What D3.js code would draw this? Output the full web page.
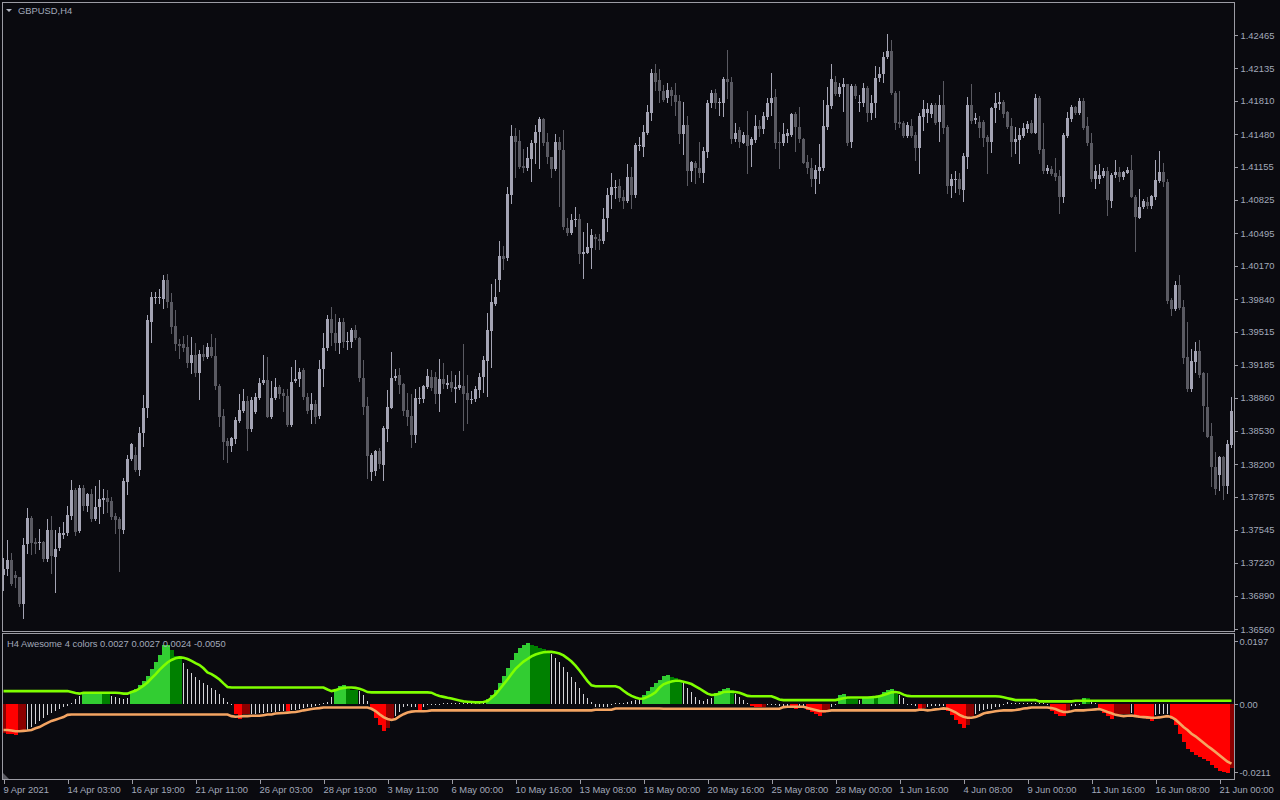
<!DOCTYPE html>
<html><head><meta charset="utf-8">
<script src="https://cdn.jsdelivr.net/npm/d3@7"></script>
<style>
html,body{margin:0;padding:0;background:#0a0a0f;}
svg{display:block}
text{font-family:"Liberation Sans",Arial,sans-serif;}
</style></head><body>
<svg id="c" width="1280" height="800"></svg>
<script>
// ---------- DATA ----------
const symbolTitle = "GBPUSD,H4";
const indicatorTitle = "H4 Awesome 4 colors 0.0027 0.0027 0.0024 -0.0050";
const timeLabels = ["9 Apr 2021","14 Apr 03:00","16 Apr 19:00","21 Apr 11:00","26 Apr 03:00","28 Apr 19:00","3 May 11:00","6 May 00:00","10 May 16:00","13 May 08:00","18 May 00:00","20 May 16:00","25 May 08:00","28 May 00:00","1 Jun 16:00","4 Jun 08:00","9 Jun 00:00","11 Jun 16:00","16 Jun 08:00","21 Jun 00:00"];
const timeLabelBars = [0,16,32,48,64,80,96,112,128,144,160,176,192,208,224,240,256,272,288,304];
const priceTicks = ["1.42465","1.42135","1.41810","1.41480","1.41155","1.40825","1.40495","1.40170","1.39840","1.39515","1.39185","1.38860","1.38530","1.38200","1.37875","1.37545","1.37220","1.36890","1.36560"];
const aoTicks = ["0.0197","0.00","-0.0211"];

const open = [
1.3710,1.3716,1.3725,1.3710,1.3708,1.3681,1.3740,1.3766,1.3742,1.3742,
1.3742,1.3725,1.3754,1.3728,1.3736,1.3749,1.3751,1.3768,1.3794,1.3753,
1.3796,1.3778,1.3790,1.3765,1.3777,1.3784,1.3786,1.3783,1.3768,1.3765,
1.3754,1.3802,1.3825,1.3829,1.3814,1.3851,1.3876,1.3961,1.3985,1.3985,
1.3984,1.4003,1.3981,1.3957,1.3939,1.3939,1.3936,1.3920,1.3928,1.3910,
1.3929,1.3926,1.3936,1.3927,1.3898,1.3868,1.3843,1.3838,1.3845,1.3863,
1.3873,1.3883,1.3855,1.3872,1.3886,1.3901,1.3904,1.3867,1.3886,1.3897,
1.3891,1.3888,1.3859,1.3903,1.3904,1.3913,1.3887,1.3874,1.3880,1.3867,
1.3914,1.3935,1.3964,1.3950,1.3940,1.3961,1.3942,1.3941,1.3953,1.3945,
1.3906,1.3878,1.3812,1.3813,1.3833,1.3819,1.3855,1.3876,1.3906,1.3909,
1.3900,1.3874,1.3868,1.3849,1.3885,1.3885,1.3897,1.3907,1.3907,1.3890,
1.3905,1.3899,1.3902,1.3895,1.3896,1.3898,1.3891,1.3884,1.3885,1.3894,
1.3906,1.3922,1.3952,1.3979,1.4003,1.4027,1.4024,1.4087,1.4146,1.4141,
1.4116,1.4114,1.4123,1.4139,1.4150,1.4163,1.4140,1.4125,1.4113,1.4140,
1.4132,1.4055,1.4050,1.4063,1.4064,1.4029,1.4030,1.4035,1.4046,1.4044,
1.4042,1.4064,1.4087,1.4095,1.4096,1.4085,1.4081,1.4105,1.4087,1.4136,
1.4135,1.4149,1.4169,1.4209,1.4202,1.4191,1.4184,1.4192,1.4187,1.4181,
1.4148,1.4157,1.4111,1.4119,1.4114,1.4109,1.4130,1.4179,1.4189,1.4180,
1.4179,1.4203,1.4200,1.4143,1.4152,1.4139,1.4147,1.4137,1.4142,1.4156,
1.4153,1.4165,1.4179,1.4185,1.4140,1.4139,1.4146,1.4147,1.4168,1.4155,
1.4143,1.4120,1.4114,1.4103,1.4111,1.4114,1.4155,1.4176,1.4200,1.4188,
1.4195,1.4198,1.4140,1.4196,1.4180,1.4179,1.4194,1.4169,1.4179,1.4204,
1.4208,1.4225,1.4231,1.4189,1.4160,1.4159,1.4146,1.4156,1.4147,1.4134,
1.4165,1.4169,1.4168,1.4177,1.4160,1.4177,1.4155,1.4096,1.4103,1.4103,
1.4092,1.4125,1.4177,1.4162,1.4160,1.4160,1.4145,1.4140,1.4174,1.4178,
1.4180,1.4170,1.4156,1.4140,1.4142,1.4146,1.4153,1.4159,1.4149,1.4184,
1.4133,1.4111,1.4113,1.4109,1.4106,1.4085,1.4146,1.4163,1.4175,1.4169,
1.4181,1.4156,1.4139,1.4103,1.4103,1.4106,1.4111,1.4081,1.4107,1.4110,
1.4105,1.4109,1.4112,1.4085,1.4065,1.4075,1.4080,1.4076,1.4085,1.4101,
1.4110,1.4100,1.3983,1.3974,1.3998,1.3976,1.3926,1.3894,1.3921,1.3932,
1.3910,1.3877,1.3848,1.3817,1.3809,1.3827,1.3798,1.3839];

const high = [
1.3727,1.3744,1.3732,1.3714,1.3708,1.3746,1.3776,1.3768,1.3746,1.3755,
1.3743,1.3765,1.3768,1.3754,1.3757,1.3762,1.3778,1.3804,1.3796,1.3799,
1.3799,1.3791,1.3795,1.3798,1.3804,1.3795,1.3794,1.3787,1.3771,1.3767,
1.3806,1.3829,1.3841,1.3837,1.3857,1.3889,1.3968,1.3991,1.3991,1.3994,
1.4008,1.4009,1.3990,1.3973,1.3944,1.3947,1.3948,1.3946,1.3940,1.3933,
1.3938,1.3940,1.3949,1.3945,1.3900,1.3875,1.3846,1.3847,1.3867,1.3890,
1.3895,1.3888,1.3887,1.3891,1.3906,1.3928,1.3926,1.3903,1.3906,1.3899,
1.3895,1.3895,1.3916,1.3923,1.3915,1.3915,1.3891,1.3891,1.3884,1.3923,
1.3950,1.3968,1.3976,1.3969,1.3965,1.3965,1.3951,1.3955,1.3958,1.3946,
1.3923,1.3887,1.3831,1.3834,1.3836,1.3858,1.3894,1.3931,1.3914,1.3915,
1.3901,1.3891,1.3890,1.3895,1.3897,1.3899,1.3914,1.3913,1.3911,1.3924,
1.3920,1.3909,1.3912,1.3909,1.3912,1.3939,1.3909,1.3893,1.3898,1.3910,
1.3927,1.3970,1.3999,1.4004,1.4042,1.4037,1.4095,1.4157,1.4154,1.4152,
1.4133,1.4135,1.4142,1.4157,1.4165,1.4164,1.4149,1.4125,1.4148,1.4145,
1.4152,1.4065,1.4069,1.4076,1.4069,1.4051,1.4060,1.4054,1.4049,1.4049,
1.4075,1.4094,1.4109,1.4102,1.4103,1.4092,1.4118,1.4115,1.4139,1.4145,
1.4157,1.4177,1.4213,1.4218,1.4213,1.4197,1.4199,1.4195,1.4199,1.4187,
1.4180,1.4166,1.4121,1.4121,1.4140,1.4135,1.4182,1.4192,1.4193,1.4184,
1.4205,1.4232,1.4205,1.4159,1.4155,1.4150,1.4171,1.4145,1.4167,1.4162,
1.4170,1.4184,1.4209,1.4193,1.4150,1.4159,1.4153,1.4169,1.4170,1.4175,
1.4144,1.4127,1.4124,1.4117,1.4138,1.4182,1.4195,1.4218,1.4206,1.4199,
1.4204,1.4198,1.4198,1.4198,1.4187,1.4199,1.4196,1.4187,1.4216,1.4215,
1.4230,1.4247,1.4242,1.4191,1.4191,1.4161,1.4160,1.4163,1.4150,1.4169,
1.4182,1.4179,1.4179,1.4179,1.4187,1.4201,1.4157,1.4108,1.4111,1.4109,
1.4129,1.4185,1.4198,1.4169,1.4166,1.4162,1.4147,1.4175,1.4189,1.4190,
1.4182,1.4171,1.4164,1.4155,1.4154,1.4159,1.4161,1.4162,1.4188,1.4186,
1.4159,1.4117,1.4116,1.4124,1.4112,1.4149,1.4170,1.4177,1.4176,1.4184,
1.4184,1.4165,1.4149,1.4117,1.4118,1.4114,1.4115,1.4109,1.4122,1.4115,
1.4111,1.4115,1.4127,1.4087,1.4093,1.4083,1.4085,1.4087,1.4122,1.4131,
1.4119,1.4103,1.3985,1.4002,1.4008,1.3983,1.3961,1.3934,1.3941,1.3943,
1.3911,1.3910,1.3861,1.3832,1.3828,1.3828,1.3844,1.3887];

const low = [
1.3695,1.3710,1.3700,1.3698,1.3679,1.3667,1.3732,1.3731,1.3732,1.3736,
1.3724,1.3724,1.3712,1.3693,1.3735,1.3746,1.3749,1.3765,1.3749,1.3752,
1.3774,1.3773,1.3763,1.3764,1.3761,1.3771,1.3772,1.3765,1.3751,1.3714,
1.3751,1.3790,1.3824,1.3813,1.3809,1.3838,1.3867,1.3941,1.3980,1.3980,
1.3975,1.3976,1.3950,1.3933,1.3925,1.3932,1.3916,1.3910,1.3908,1.3885,
1.3923,1.3925,1.3926,1.3895,1.3858,1.3825,1.3822,1.3833,1.3841,1.3862,
1.3872,1.3834,1.3853,1.3871,1.3885,1.3900,1.3867,1.3866,1.3885,1.3886,
1.3873,1.3858,1.3858,1.3902,1.3898,1.3885,1.3871,1.3861,1.3861,1.3866,
1.3898,1.3933,1.3938,1.3933,1.3930,1.3936,1.3934,1.3936,1.3944,1.3903,
1.3870,1.3806,1.3804,1.3809,1.3816,1.3804,1.3843,1.3876,1.3904,1.3891,
1.3869,1.3859,1.3837,1.3842,1.3881,1.3882,1.3896,1.3894,1.3881,1.3873,
1.3896,1.3896,1.3893,1.3882,1.3895,1.3854,1.3861,1.3881,1.3883,1.3887,
1.3892,1.3888,1.3916,1.3978,1.3992,1.4014,1.4023,1.4079,1.4105,1.4114,
1.4110,1.4112,1.4101,1.4119,1.4114,1.4137,1.4119,1.4105,1.4112,1.4077,
1.4054,1.4048,1.4049,1.4057,1.4020,1.4005,1.4030,1.4015,1.4034,1.4034,
1.4040,1.4052,1.4075,1.4084,1.4081,1.4075,1.4080,1.4075,1.4085,1.4132,
1.4126,1.4148,1.4162,1.4192,1.4180,1.4181,1.4180,1.4177,1.4167,1.4139,
1.4128,1.4097,1.4101,1.4099,1.4105,1.4100,1.4125,1.4175,1.4174,1.4167,
1.4166,1.4184,1.4139,1.4141,1.4135,1.4139,1.4109,1.4116,1.4140,1.4146,
1.4149,1.4163,1.4167,1.4134,1.4114,1.4137,1.4140,1.4146,1.4131,1.4140,
1.4119,1.4109,1.4096,1.4089,1.4099,1.4112,1.4153,1.4174,1.4187,1.4186,
1.4171,1.4137,1.4135,1.4184,1.4171,1.4176,1.4161,1.4163,1.4165,1.4201,
1.4200,1.4224,1.4188,1.4153,1.4155,1.4145,1.4145,1.4145,1.4122,1.4109,
1.4152,1.4160,1.4165,1.4158,1.4141,1.4149,1.4089,1.4085,1.4090,1.4088,
1.4081,1.4114,1.4159,1.4159,1.4145,1.4136,1.4109,1.4130,1.4160,1.4173,
1.4165,1.4154,1.4126,1.4129,1.4119,1.4145,1.4150,1.4149,1.4149,1.4129,
1.4109,1.4109,1.4107,1.4102,1.4070,1.4080,1.4145,1.4161,1.4168,1.4168,
1.4153,1.4137,1.4101,1.4094,1.4099,1.4105,1.4068,1.4076,1.4105,1.4101,
1.4103,1.4109,1.4085,1.4032,1.4065,1.4075,1.4075,1.4075,1.4083,1.4100,
1.4096,1.3980,1.3968,1.3973,1.3974,1.3920,1.3893,1.3893,1.3911,1.3907,
1.3853,1.3847,1.3798,1.3790,1.3794,1.3785,1.3791,1.3837];

const close = [
1.3716,1.3725,1.3701,1.3707,1.3681,1.3740,1.3766,1.3741,1.3740,1.3742,
1.3725,1.3754,1.3728,1.3736,1.3751,1.3751,1.3769,1.3794,1.3752,1.3796,
1.3778,1.3790,1.3765,1.3777,1.3785,1.3786,1.3782,1.3767,1.3764,1.3755,
1.3803,1.3825,1.3840,1.3814,1.3851,1.3876,1.3963,1.3986,1.3986,1.3986,
1.4003,1.3981,1.3956,1.3939,1.3937,1.3935,1.3920,1.3928,1.3910,1.3929,
1.3926,1.3936,1.3927,1.3897,1.3867,1.3842,1.3838,1.3846,1.3864,1.3874,
1.3883,1.3855,1.3884,1.3887,1.3901,1.3904,1.3867,1.3886,1.3897,1.3890,
1.3888,1.3859,1.3902,1.3905,1.3911,1.3886,1.3873,1.3880,1.3867,1.3914,
1.3935,1.3964,1.3950,1.3940,1.3961,1.3941,1.3942,1.3953,1.3945,1.3905,
1.3877,1.3828,1.3829,1.3833,1.3820,1.3856,1.3877,1.3906,1.3908,1.3899,
1.3873,1.3867,1.3849,1.3886,1.3886,1.3898,1.3908,1.3896,1.3890,1.3905,
1.3900,1.3901,1.3896,1.3897,1.3899,1.3890,1.3884,1.3885,1.3895,1.3907,
1.3923,1.3953,1.3981,1.3986,1.4027,1.4024,1.4088,1.4146,1.4140,1.4115,
1.4114,1.4124,1.4139,1.4150,1.4163,1.4139,1.4125,1.4113,1.4140,1.4132,
1.4055,1.4050,1.4063,1.4064,1.4029,1.4031,1.4036,1.4048,1.4044,1.4042,
1.4064,1.4087,1.4095,1.4095,1.4084,1.4081,1.4105,1.4087,1.4137,1.4137,
1.4150,1.4170,1.4209,1.4200,1.4191,1.4182,1.4192,1.4186,1.4180,1.4148,
1.4157,1.4111,1.4120,1.4114,1.4109,1.4131,1.4179,1.4189,1.4179,1.4180,
1.4203,1.4200,1.4143,1.4149,1.4140,1.4147,1.4136,1.4143,1.4156,1.4153,
1.4166,1.4179,1.4184,1.4139,1.4139,1.4148,1.4149,1.4168,1.4155,1.4143,
1.4119,1.4114,1.4103,1.4112,1.4115,1.4156,1.4177,1.4203,1.4188,1.4195,
1.4198,1.4139,1.4196,1.4186,1.4180,1.4194,1.4169,1.4179,1.4204,1.4208,
1.4225,1.4231,1.4189,1.4159,1.4158,1.4146,1.4157,1.4146,1.4134,1.4166,
1.4173,1.4173,1.4177,1.4159,1.4177,1.4154,1.4096,1.4103,1.4103,1.4093,
1.4126,1.4177,1.4161,1.4164,1.4154,1.4144,1.4140,1.4174,1.4179,1.4180,
1.4168,1.4155,1.4140,1.4143,1.4147,1.4154,1.4158,1.4149,1.4184,1.4132,
1.4111,1.4114,1.4108,1.4105,1.4085,1.4147,1.4164,1.4175,1.4169,1.4181,
1.4154,1.4139,1.4103,1.4111,1.4107,1.4111,1.4082,1.4107,1.4110,1.4105,
1.4110,1.4112,1.4085,1.4065,1.4076,1.4081,1.4076,1.4086,1.4102,1.4110,
1.4100,1.3982,1.3974,1.3998,1.3975,1.3925,1.3894,1.3922,1.3932,1.3908,
1.3877,1.3847,1.3817,1.3795,1.3827,1.3798,1.3840,1.3873];

// Awesome oscillator histogram
const ao = [
-0.0090,-0.0093,-0.0094,-0.0097,-0.0084,-0.0083,-0.0079,-0.0071,-0.0061,-0.0052,
-0.0042,-0.0035,-0.0027,-0.0021,-0.0016,-0.0010,-0.0005,0.0004,0.0016,0.0025,
0.0037,0.0037,0.0037,0.0037,0.0037,0.0033,0.0031,0.0026,0.0023,0.0018,
0.0016,0.0018,0.0039,0.0049,0.0060,0.0073,0.0088,0.0109,0.0133,0.0154,
0.0183,0.0183,0.0169,0.0151,0.0150,0.0128,0.0109,0.0096,0.0086,0.0075,
0.0067,0.0060,0.0052,0.0044,0.0033,0.0018,0.0007,-0.0002,-0.0029,-0.0045,
-0.0029,-0.0029,-0.0029,-0.0029,-0.0027,-0.0026,-0.0025,-0.0024,-0.0023,-0.0022,
-0.0021,-0.0022,-0.0019,-0.0017,-0.0015,-0.0013,-0.0010,-0.0007,-0.0005,-0.0003,
0.0001,0.0007,0.0023,0.0049,0.0058,0.0060,0.0046,0.0044,0.0043,0.0042,
0.0028,0.0009,-0.0015,-0.0042,-0.0066,-0.0082,-0.0073,-0.0048,-0.0037,-0.0024,
-0.0010,-0.0006,-0.0010,-0.0010,-0.0019,-0.0008,-0.0003,-0.0002,-0.0002,-0.0001,
0.0001,0.0001,0.0001,0.0001,0.0001,0.0001,0.0001,0.0002,0.0002,0.0003,
0.0004,0.0015,0.0028,0.0044,0.0065,0.0088,0.0112,0.0138,0.0159,0.0175,
0.0185,0.0192,0.0185,0.0180,0.0175,0.0172,0.0167,0.0156,0.0143,0.0133,
0.0117,0.0101,0.0086,0.0070,0.0052,0.0033,0.0018,0.0007,-0.0008,-0.0010,
-0.0010,-0.0008,-0.0003,0.0004,0.0004,0.0004,0.0006,0.0009,0.0013,0.0018,
0.0028,0.0041,0.0054,0.0067,0.0077,0.0088,0.0091,0.0086,0.0081,0.0075,
0.0067,0.0052,0.0039,0.0023,0.0013,0.0010,0.0015,0.0018,0.0036,0.0041,
0.0046,0.0052,0.0044,0.0033,0.0023,0.0013,0.0004,-0.0006,-0.0009,-0.0010,
-0.0008,-0.0003,-0.0002,-0.0003,-0.0004,-0.0004,-0.0005,-0.0012,-0.0016,-0.0010,
-0.0008,-0.0019,-0.0024,-0.0031,-0.0038,-0.0027,-0.0019,-0.0008,-0.0003,0.0028,
0.0031,0.0018,0.0016,0.0015,0.0013,0.0018,0.0018,0.0020,0.0018,0.0028,
0.0037,0.0044,0.0046,0.0033,0.0028,0.0018,-0.0002,-0.0003,-0.0005,-0.0014,
-0.0013,-0.0008,-0.0006,-0.0005,-0.0004,-0.0004,-0.0021,-0.0035,-0.0048,-0.0061,
-0.0073,-0.0066,-0.0038,-0.0029,-0.0021,-0.0017,-0.0015,-0.0014,-0.0010,-0.0008,
-0.0003,0.0007,0.0004,0.0002,0.0002,0.0001,0.0002,0.0002,0.0004,0.0002,
0.0001,-0.0003,-0.0020,-0.0029,-0.0037,-0.0038,-0.0020,-0.0005,-0.0004,-0.0003,
0.0020,0.0018,0.0007,0.0004,-0.0019,-0.0027,-0.0038,-0.0045,-0.0031,-0.0031,
-0.0029,-0.0029,-0.0027,-0.0035,-0.0042,-0.0042,-0.0045,-0.0052,-0.0035,-0.0031,
-0.0029,-0.0031,-0.0045,-0.0066,-0.0092,-0.0118,-0.0139,-0.0150,-0.0157,-0.0163,
-0.0171,-0.0176,-0.0188,-0.0199,-0.0207,-0.0212,-0.0215,-0.0199];

// bar state: L = up above band, D = down above band, R = down below band, K = up below band, W = inside band
const aoState = (
"KRRRKKWWWW"+"WWWWWWWWWW"+"LLLLLDDWWW"+"WWLLLLLLLL"+"LLDDDWWWWW"+
"WWWWWWWWRR"+"KKWWWWWWWW"+"WRWWWWWWWW"+"WWWLLLDDDW"+"WWRRRRKKWW"+
"WWWWRWWWWW"+"WWWWWWWWWW"+"WLLLLLLLLL"+"LLDDDDDWWW"+"WWWWWWWWWW"+
"WWWWWWWWWW"+"LLLLLLLDDD"+"WWWWWWWWLL"+"LLDWWWWRRR"+"KWWWWWWRRW"+
"WRRRRKKWWL"+"LDDDWLLLDL"+"LLLDWWWWWR"+"KWWWWWRRRR"+"RKKWWWWWWW"+
"WWWWWWWWWW"+"WWRRRRKWWW"+"LDWWRRRRKK"+"KKWRRRRRWW"+"WWRRRRRRRR"+
"RRRRRRRK").split("");

const upperBand = [
0.0041,0.0041,0.0041,0.0041,0.0041,0.0041,0.0041,0.0041,0.0041,0.0041,
0.0041,0.0041,0.0041,0.0041,0.0041,0.0041,0.0041,0.0038,0.0035,0.0033,
0.0036,0.0036,0.0036,0.0036,0.0036,0.0036,0.0036,0.0036,0.0036,0.0035,
0.0033,0.0033,0.0038,0.0042,0.0049,0.0058,0.0068,0.0081,0.0093,0.0107,
0.0119,0.0130,0.0138,0.0143,0.0146,0.0145,0.0141,0.0135,0.0128,0.0122,
0.0112,0.0099,0.0094,0.0086,0.0077,0.0065,0.0054,0.0052,0.0052,0.0052,
0.0052,0.0052,0.0052,0.0052,0.0052,0.0052,0.0052,0.0052,0.0052,0.0052,
0.0052,0.0052,0.0052,0.0052,0.0052,0.0052,0.0052,0.0052,0.0052,0.0052,
0.0052,0.0046,0.0041,0.0044,0.0048,0.0051,0.0052,0.0052,0.0051,0.0048,
0.0044,0.0038,0.0037,0.0037,0.0037,0.0037,0.0037,0.0037,0.0037,0.0037,
0.0037,0.0037,0.0037,0.0037,0.0037,0.0037,0.0037,0.0036,0.0030,0.0026,
0.0023,0.0020,0.0018,0.0015,0.0012,0.0009,0.0008,0.0007,0.0006,0.0006,
0.0007,0.0010,0.0020,0.0031,0.0046,0.0062,0.0077,0.0094,0.0110,0.0122,
0.0133,0.0141,0.0149,0.0155,0.0159,0.0162,0.0163,0.0163,0.0161,0.0158,
0.0152,0.0143,0.0133,0.0120,0.0105,0.0089,0.0072,0.0059,0.0056,0.0056,
0.0056,0.0056,0.0056,0.0056,0.0052,0.0042,0.0033,0.0026,0.0021,0.0017,
0.0018,0.0023,0.0029,0.0037,0.0052,0.0062,0.0067,0.0071,0.0073,0.0073,
0.0070,0.0067,0.0063,0.0056,0.0049,0.0041,0.0033,0.0029,0.0030,0.0033,
0.0038,0.0039,0.0039,0.0038,0.0036,0.0031,0.0026,0.0025,0.0025,0.0025,
0.0025,0.0025,0.0025,0.0020,0.0015,0.0013,0.0013,0.0013,0.0013,0.0013,
0.0013,0.0013,0.0013,0.0013,0.0013,0.0013,0.0013,0.0013,0.0013,0.0016,
0.0019,0.0021,0.0021,0.0021,0.0021,0.0021,0.0021,0.0022,0.0023,0.0025,
0.0029,0.0033,0.0037,0.0038,0.0036,0.0030,0.0026,0.0025,0.0025,0.0025,
0.0025,0.0025,0.0025,0.0025,0.0025,0.0025,0.0025,0.0025,0.0025,0.0025,
0.0025,0.0025,0.0025,0.0025,0.0025,0.0025,0.0025,0.0025,0.0025,0.0024,
0.0022,0.0019,0.0016,0.0013,0.0013,0.0013,0.0013,0.0013,0.0013,0.0009,
0.0009,0.0009,0.0009,0.0009,0.0009,0.0009,0.0009,0.0009,0.0011,0.0011,
0.0011,0.0011,0.0011,0.0011,0.0011,0.0011,0.0011,0.0011,0.0011,0.0011,
0.0011,0.0011,0.0011,0.0011,0.0011,0.0011,0.0011,0.0011,0.0011,0.0011,
0.0011,0.0011,0.0011,0.0011,0.0011,0.0011,0.0011,0.0011,0.0011,0.0011,
0.0011,0.0011,0.0011,0.0011,0.0011,0.0011,0.0011,0.0011];

const lowerBand = [
-0.0080,-0.0080,-0.0082,-0.0084,-0.0084,-0.0083,-0.0082,-0.0080,-0.0075,-0.0071,
-0.0064,-0.0058,-0.0052,-0.0048,-0.0044,-0.0040,-0.0033,-0.0032,-0.0032,-0.0032,
-0.0032,-0.0032,-0.0032,-0.0032,-0.0032,-0.0032,-0.0032,-0.0032,-0.0032,-0.0032,
-0.0032,-0.0032,-0.0032,-0.0032,-0.0032,-0.0032,-0.0032,-0.0032,-0.0032,-0.0032,
-0.0032,-0.0032,-0.0032,-0.0032,-0.0032,-0.0032,-0.0032,-0.0032,-0.0032,-0.0032,
-0.0032,-0.0032,-0.0032,-0.0032,-0.0032,-0.0032,-0.0032,-0.0037,-0.0039,-0.0038,
-0.0037,-0.0037,-0.0036,-0.0036,-0.0036,-0.0034,-0.0032,-0.0032,-0.0029,-0.0028,
-0.0027,-0.0026,-0.0025,-0.0024,-0.0022,-0.0019,-0.0017,-0.0015,-0.0013,-0.0012,
-0.0010,-0.0010,-0.0010,-0.0010,-0.0010,-0.0010,-0.0010,-0.0010,-0.0010,-0.0010,
-0.0010,-0.0010,-0.0014,-0.0021,-0.0031,-0.0040,-0.0046,-0.0049,-0.0046,-0.0038,
-0.0031,-0.0026,-0.0023,-0.0022,-0.0022,-0.0022,-0.0021,-0.0019,-0.0019,-0.0019,
-0.0019,-0.0019,-0.0019,-0.0019,-0.0019,-0.0019,-0.0019,-0.0019,-0.0019,-0.0019,
-0.0019,-0.0019,-0.0019,-0.0019,-0.0019,-0.0019,-0.0019,-0.0019,-0.0019,-0.0019,
-0.0019,-0.0019,-0.0019,-0.0019,-0.0019,-0.0019,-0.0019,-0.0019,-0.0019,-0.0019,
-0.0019,-0.0019,-0.0019,-0.0019,-0.0019,-0.0019,-0.0019,-0.0019,-0.0017,-0.0017,
-0.0017,-0.0017,-0.0017,-0.0013,-0.0013,-0.0013,-0.0013,-0.0013,-0.0013,-0.0013,
-0.0013,-0.0013,-0.0013,-0.0013,-0.0013,-0.0014,-0.0014,-0.0014,-0.0014,-0.0014,
-0.0014,-0.0014,-0.0014,-0.0014,-0.0014,-0.0014,-0.0014,-0.0014,-0.0014,-0.0014,
-0.0014,-0.0014,-0.0014,-0.0014,-0.0014,-0.0014,-0.0014,-0.0014,-0.0014,-0.0014,
-0.0014,-0.0014,-0.0014,-0.0014,-0.0014,-0.0009,-0.0008,-0.0008,-0.0008,-0.0008,
-0.0008,-0.0012,-0.0015,-0.0018,-0.0021,-0.0022,-0.0021,-0.0019,-0.0019,-0.0019,
-0.0019,-0.0019,-0.0019,-0.0019,-0.0019,-0.0019,-0.0019,-0.0019,-0.0019,-0.0019,
-0.0019,-0.0019,-0.0019,-0.0019,-0.0019,-0.0019,-0.0019,-0.0019,-0.0019,-0.0017,
-0.0017,-0.0019,-0.0018,-0.0016,-0.0015,-0.0013,-0.0014,-0.0019,-0.0025,-0.0033,
-0.0039,-0.0042,-0.0042,-0.0040,-0.0035,-0.0029,-0.0026,-0.0024,-0.0022,-0.0020,
-0.0019,-0.0019,-0.0019,-0.0018,-0.0016,-0.0013,-0.0012,-0.0010,-0.0010,-0.0010,
-0.0010,-0.0010,-0.0012,-0.0015,-0.0020,-0.0024,-0.0024,-0.0022,-0.0019,-0.0019,
-0.0019,-0.0018,-0.0017,-0.0016,-0.0015,-0.0019,-0.0024,-0.0028,-0.0033,-0.0035,
-0.0037,-0.0036,-0.0035,-0.0037,-0.0039,-0.0040,-0.0041,-0.0042,-0.0042,-0.0041,
-0.0039,-0.0037,-0.0040,-0.0048,-0.0059,-0.0071,-0.0080,-0.0092,-0.0100,-0.0110,
-0.0120,-0.0130,-0.0139,-0.0149,-0.0159,-0.0169,-0.0179,-0.0185];

// ---------- DRAW ----------
const W = 1280, H = 800;
const BG = "#0a0a0f", FRAME = "#9c9ca4", TXT = "#a2a9ba";
const bullCol = "#a4a4b4", bearCol = "#5a5a62";
const stateColor = {L:"#32cd32", D:"#008000", R:"#ff0000", K:"#8b0000"};

const svg = d3.select("#c");
svg.append("rect").attr("width", W).attr("height", H).attr("fill", BG);

const n = open.length;
const idx = d3.range(n);
const x = d3.scaleLinear().domain([0, n - 1]).range([3, 3 + 4 * (n - 1)]);
const y = d3.scaleLinear().domain([+priceTicks[priceTicks.length-1], +priceTicks[0]]).range([629, 35]);
const yi = d3.scaleLinear().domain([+aoTicks[2], +aoTicks[0]]).range([772, 641]);

// clip paths
const defs = svg.append("defs");
defs.append("clipPath").attr("id","mainClip").append("rect").attr("x",3).attr("y",3).attr("width",1231).attr("height",628);
defs.append("clipPath").attr("id","subClip").append("rect").attr("x",3).attr("y",635).attr("width",1231).attr("height",144);

// candles
const gC = svg.append("g").attr("clip-path","url(#mainClip)").attr("shape-rendering","crispEdges");
const cand = gC.selectAll("g.c").data(idx).join("g").attr("class","c");
cand.append("line")
  .attr("x1", i => x(i) + 0.5).attr("x2", i => x(i) + 0.5)
  .attr("y1", i => y(high[i])).attr("y2", i => y(low[i]) + 1)
  .attr("stroke", i => close[i] >= open[i] ? bullCol : bearCol).attr("stroke-width", 1);
cand.append("rect")
  .attr("x", i => x(i) - 1).attr("width", 3)
  .attr("y", i => Math.round(y(Math.max(open[i], close[i]))))
  .attr("height", i => Math.max(1, Math.round(Math.abs(y(open[i]) - y(close[i])))))
  .attr("fill", i => close[i] >= open[i] ? bullCol : bearCol);

// indicator
const gI = svg.append("g").attr("clip-path","url(#subClip)");
const z0 = yi(0);
const gH = gI.append("g").attr("shape-rendering","crispEdges");
gH.selectAll("rect.h").data(idx.filter(i => aoState[i] !== "W")).join("rect").attr("class","h")
  .attr("x", i => x(i) - 1.5).attr("width", 4)
  .attr("y", i => Math.min(z0, yi(ao[i])))
  .attr("height", i => Math.max(1, Math.abs(yi(ao[i]) - z0)))
  .attr("fill", i => stateColor[aoState[i]]);
gH.selectAll("line.w").data(idx.filter(i => aoState[i] === "W")).join("line").attr("class","w")
  .attr("x1", i => x(i) + 0.5).attr("x2", i => x(i) + 0.5)
  .attr("y1", z0)
  .attr("y2", i => { const v = yi(ao[i]); return Math.abs(v - z0) < 1 ? z0 + (ao[i] >= 0 ? -1 : 1) : v; })
  .attr("stroke", "#d4d4d8").attr("stroke-width", 1);

const ln = arr => d3.line().x(i => x(i) + 0.5).y(i => yi(arr[i]))(idx);
gI.append("path").attr("d", ln(lowerBand)).attr("fill","none").attr("stroke","#f4a462").attr("stroke-width",2.6);
gI.append("path").attr("d", ln(upperBand)).attr("fill","none").attr("stroke","#7fff00").attr("stroke-width",2.6);

// frames
const fr = svg.append("g").attr("fill","none").attr("stroke",FRAME).attr("stroke-width",1).attr("shape-rendering","crispEdges");
fr.append("rect").attr("x",2.5).attr("y",2.5).attr("width",1232).attr("height",629);
fr.append("rect").attr("x",2.5).attr("y",633.5).attr("width",1232).attr("height",146);

// price axis
const pAxis = d3.axisRight(y).tickValues(priceTicks.map(Number)).tickFormat((d,i) => priceTicks[i]).tickSize(3).tickPadding(3);
const gPA = svg.append("g").attr("transform","translate(1234.5,0)").call(pAxis);
// sub axis
const sAxis = d3.axisRight(yi).tickValues(aoTicks.map(Number)).tickFormat((d,i) => aoTicks[i]).tickSize(3).tickPadding(2);
const gSA = svg.append("g").attr("transform","translate(1234.5,0)").call(sAxis);
// time axis
const tAxis = d3.axisBottom(x).tickValues(timeLabelBars).tickFormat((d,i) => timeLabels[i]).tickSize(4).tickPadding(1);
const gTA = svg.append("g").attr("transform","translate(0.5,779.5)").call(tAxis);
gTA.selectAll("text").attr("text-anchor","start").attr("dx", -0.5).attr("dy","0.9em");

[gPA, gSA, gTA].forEach(g => {
  g.select(".domain").remove();
  g.selectAll(".tick line").attr("stroke", FRAME).attr("shape-rendering","crispEdges");
  g.selectAll("text").attr("fill", TXT).attr("font-size", "9.4px").attr("font-family", '"Liberation Sans",Arial,sans-serif');
});

// titles
svg.append("path").attr("d","M6,9 L12,9 L9,12 Z").attr("fill","#b4b8c4");
svg.append("text").attr("x",18).attr("y",14).attr("fill",TXT).attr("font-size","9.4px").text(symbolTitle);
svg.append("text").attr("x",7).attr("y",647).attr("fill",TXT).attr("font-size","9.4px").text(indicatorTitle);
svg.append("path").attr("d","M3,773 L3,779 L9,779 Z").attr("fill","#5a5a62");
</script>
</body></html>
